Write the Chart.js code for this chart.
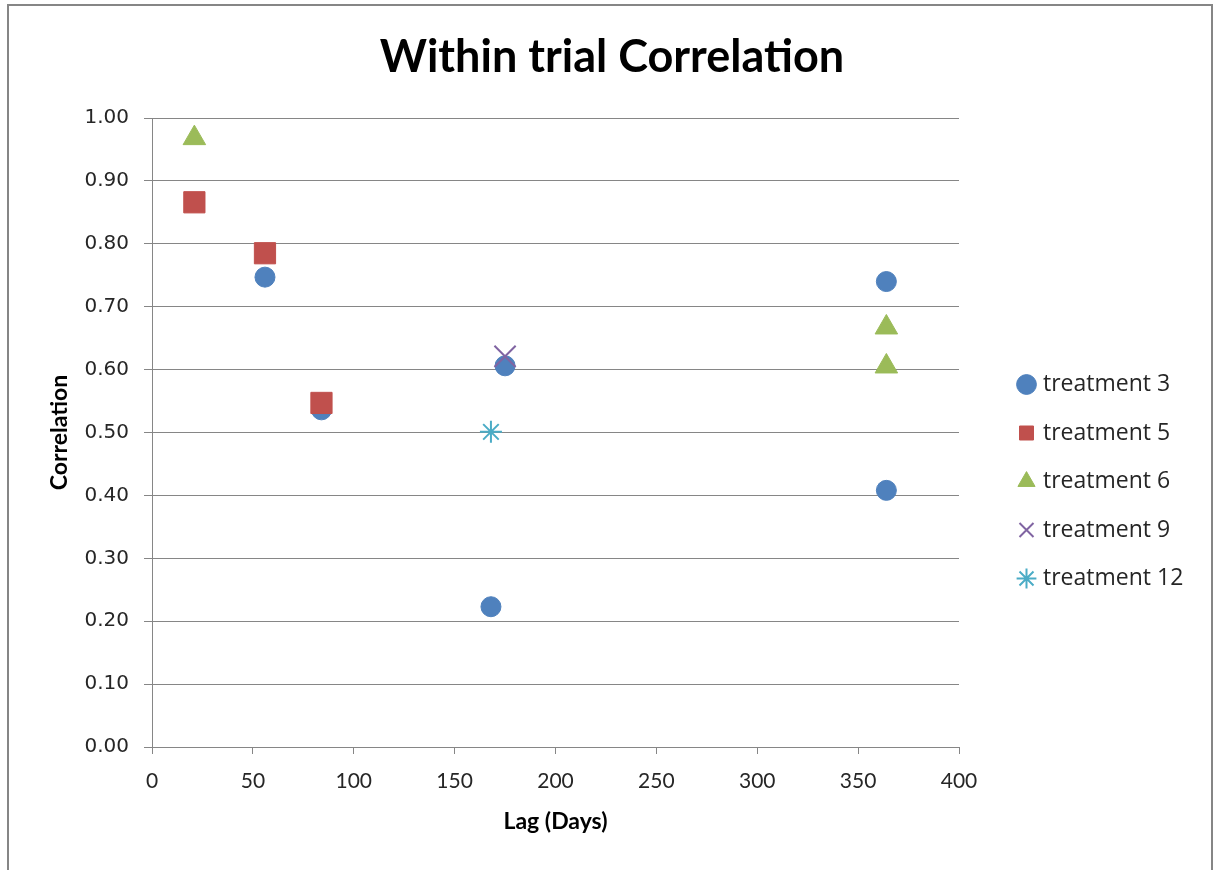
<!DOCTYPE html>
<html>
<head>
<meta charset="utf-8">
<script src="https://cdn.jsdelivr.net/npm/chart.js@4.4.1/dist/chart.umd.min.js"></script>
<style>
  html, body { margin: 0; padding: 0; background: #ffffff; }
  canvas { display: block; }
</style>
</head>
<body>
<canvas id="c" width="1214" height="870"></canvas>
<script>
// ---- data ----
const seriesNames = ['treatment 3', 'treatment 5', 'treatment 6', 'treatment 9', 'treatment 12'];
const t3Lag  = [56, 84, 175, 168, 364, 364];
const t3Corr = [0.747, 0.536, 0.606, 0.223, 0.740, 0.408];
const t5Lag  = [21, 56, 84];
const t5Corr = [0.866, 0.785, 0.547];
const t6Lag  = [21, 364, 364];
const t6Corr = [0.968, 0.667, 0.605];
const t9Lag  = [175];
const t9Corr = [0.621];
const t12Lag  = [168];
const t12Corr = [0.501];
const xTicks = [0, 50, 100, 150, 200, 250, 300, 350, 400];
const yTicks = [0.00, 0.10, 0.20, 0.30, 0.40, 0.50, 0.60, 0.70, 0.80, 0.90, 1.00];

function pts(xs, ys) { return xs.map((x, i) => ({ x: x, y: ys[i] })); }

const GRID = '#868686';
const TXT = '#262626';

const framePlugin = {
  id: 'frame',
  beforeDraw(chart) {
    const ctx = chart.ctx;
    ctx.save();
    ctx.fillStyle = '#ffffff';
    ctx.fillRect(0, 0, chart.width, chart.height);
    ctx.strokeStyle = GRID;
    ctx.lineWidth = 2;
    ctx.beginPath();
    ctx.moveTo(8, 870);
    ctx.lineTo(8, 5);
    ctx.lineTo(1212, 5);
    ctx.lineTo(1212, 870);
    ctx.stroke();
    ctx.restore();
  }
};

const datasets = [
  { label: seriesNames[0], data: pts(t3Lag, t3Corr), pointStyle: 'circle', pointRadius: 10, pointHoverRadius: 10,
    backgroundColor: '#4F81BD', borderColor: '#4F81BD', borderWidth: 1, order: 5 },
  { label: seriesNames[1], data: pts(t5Lag, t5Corr), pointStyle: 'rect', pointRadius: 15, pointHoverRadius: 15,
    backgroundColor: '#C0504D', borderColor: '#C0504D', borderWidth: 1, order: 4 },
  { label: seriesNames[2], data: pts(t6Lag, t6Corr), pointStyle: 'triangle', pointRadius: 13, pointHoverRadius: 13,
    backgroundColor: '#9BBB59', borderColor: '#9BBB59', borderWidth: 1, order: 3 },
  { label: seriesNames[3], data: pts(t9Lag, t9Corr), pointStyle: 'crossRot', pointRadius: 15, pointHoverRadius: 15,
    backgroundColor: '#8064A2', borderColor: '#8064A2', borderWidth: 2, order: 2 },
  { label: seriesNames[4], data: pts(t12Lag, t12Corr), pointStyle: 'star', pointRadius: 11, pointHoverRadius: 11,
    backgroundColor: '#4BACC6', borderColor: '#4BACC6', borderWidth: 2, order: 1 }
];

new Chart(document.getElementById('c'), {
  type: 'scatter',
  data: { datasets: datasets },
  plugins: [framePlugin],
  options: {
    responsive: false,
    animation: false,
    layout: { padding: { top: 10, bottom: 20, left: 36, right: 26 } },
    plugins: {
      title: {
        display: true,
        text: 'Within trial Correlation',
        color: '#000000',
        font: { family: 'Lato', size: 45, weight: 'bold' },
        padding: { top: 20, bottom: 34 }
      },
      legend: {
        display: true,
        position: 'right',
        align: 'start',
        fullSize: false,
        title: { display: true, text: ' ', font: { size: 10 }, padding: { top: 217.5, bottom: 0 } },
        labels: {
          usePointStyle: true,
          boxWidth: 10,
          boxHeight: 14,
          padding: 25.5,
          color: TXT,
          font: { family: 'Open Sans', size: 23 },
          sort: (a, b) => a.datasetIndex - b.datasetIndex
        }
      },
      tooltip: { enabled: false }
    },
    scales: {
      x: {
        type: 'linear',
        position: 'bottom',
        min: 0, max: 400,
        afterBuildTicks: (s) => { s.ticks = xTicks.map(v => ({ value: v })); },
        afterFit: (s) => { s.height = 103; },
        ticks: {
          color: TXT,
          padding: 15,
          font: { family: "'Liberation Sans Narrow', Lato", size: 21 },
          callback: (v) => String(v)
        },
        grid: { drawOnChartArea: false, drawTicks: true, tickLength: 7, color: GRID, lineWidth: 1 },
        border: { display: true, color: GRID, width: 1 },
        title: {
          display: true, text: 'Lag (Days)', color: '#000000',
          font: { family: 'Lato', size: 23, weight: 'bold' },
          padding: { top: 0, bottom: 15 }
        }
      },
      y: {
        type: 'linear',
        position: 'left',
        min: 0, max: 1,
        afterBuildTicks: (s) => { s.ticks = yTicks.map(v => ({ value: v })); },
        afterFit: (s) => { s.width = 116; },
        ticks: {
          color: TXT,
          padding: 15,
          font: { family: 'DejaVu Sans', size: 20 },
          callback: (v) => Number(v).toFixed(2)
        },
        grid: { drawOnChartArea: true, drawTicks: true, tickLength: 8, color: GRID, lineWidth: 1 },
        border: { display: true, color: GRID, width: 1 },
        title: {
          display: true, text: 'Correlation', color: '#000000',
          font: { family: 'Lato', size: 23, weight: 'bold' },
          padding: { top: 10, bottom: 0 }
        }
      },
      gap: {
        type: 'linear',
        position: 'right',
        display: true,
        afterFit: (s) => { s.width = 37; },
        ticks: { display: false },
        grid: { display: false, drawOnChartArea: false, drawTicks: false },
        border: { display: false }
      }
    }
  }
});
</script>
</body>
</html>
